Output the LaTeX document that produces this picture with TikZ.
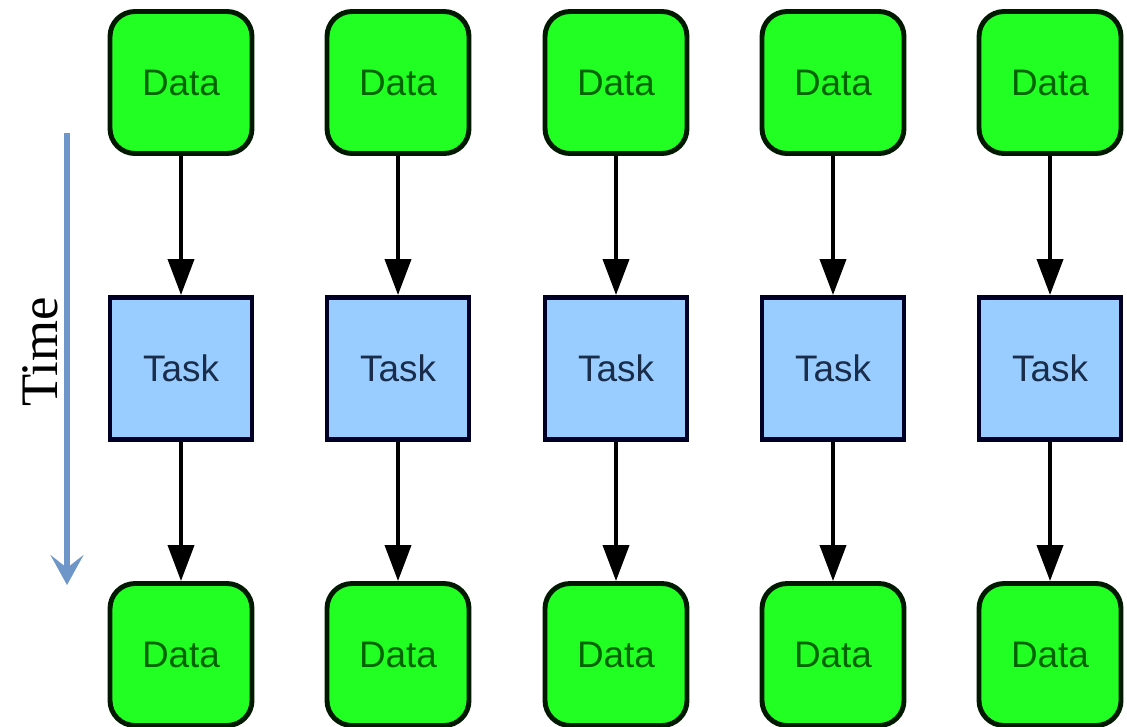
\documentclass[tikz,border=0pt]{standalone}
\usepackage{fontspec}
\setmainfont{Liberation Serif}
\setsansfont{Liberation Sans}
\definecolor{datagreen}{RGB}{34, 255, 34}
\definecolor{datatext}{RGB}{0, 100, 0}
\definecolor{taskblue}{RGB}{153, 204, 255}
\definecolor{tasktext}{RGB}{25, 45, 75}
\definecolor{timeblue}{RGB}{110, 150, 200}
\usetikzlibrary{arrows.meta, positioning}
\tikzset{
  databox/.style={draw=black!90!green, fill=datagreen, line width=1.4pt, rounded corners=2.5mm, minimum width=1.42cm, minimum height=1.42cm, font=\sffamily\fontsize{10.5}{12}\selectfont, text=datatext},
  taskbox/.style={draw=black!85!blue, fill=taskblue, line width=1.4pt, minimum width=1.42cm, minimum height=1.42cm, font=\sffamily\fontsize{10.5}{12}\selectfont, text=tasktext},
  flow/.style={-{Triangle[width=2.6mm, length=3.6mm]}, line width=1.1pt, black}
}
\begin{document}
\begin{tikzpicture}
  \useasboundingbox (0, 0) rectangle (11.27, 7.26);

  % Input data (top row)
  \node[databox] (in1) at (1.81, 6.435) {Data};
  \node[databox] (in2) at (3.98, 6.435) {Data};
  \node[databox] (in3) at (6.16, 6.435) {Data};
  \node[databox] (in4) at (8.33, 6.435) {Data};
  \node[databox] (in5) at (10.50, 6.435) {Data};

  % Tasks (middle row)
  \node[taskbox] (task1) at (1.81, 3.575) {Task};
  \node[taskbox] (task2) at (3.98, 3.575) {Task};
  \node[taskbox] (task3) at (6.16, 3.575) {Task};
  \node[taskbox] (task4) at (8.33, 3.575) {Task};
  \node[taskbox] (task5) at (10.50, 3.575) {Task};

  % Output data (bottom row)
  \node[databox] (out1) at (1.81, 0.715) {Data};
  \node[databox] (out2) at (3.98, 0.715) {Data};
  \node[databox] (out3) at (6.16, 0.715) {Data};
  \node[databox] (out4) at (8.33, 0.715) {Data};
  \node[databox] (out5) at (10.50, 0.715) {Data};

  % Data into tasks
  \draw[flow] (in1.south) -- (task1.north);
  \draw[flow] (in2.south) -- (task2.north);
  \draw[flow] (in3.south) -- (task3.north);
  \draw[flow] (in4.south) -- (task4.north);
  \draw[flow] (in5.south) -- (task5.north);

  % Tasks into data
  \draw[flow] (task1.south) -- (out1.north);
  \draw[flow] (task2.south) -- (out2.north);
  \draw[flow] (task3.south) -- (out3.north);
  \draw[flow] (task4.south) -- (out4.north);
  \draw[flow] (task5.south) -- (out5.north);

  % Time axis
  \coordinate (tstart) at (0.67, 5.93);
  \coordinate (tend) at (0.67, 1.41);
  \draw[timeblue, line width=1.6pt, -{Stealth[width=3.3mm, length=3mm, inset=1.3mm]}] (tstart) -- (tend);
  \node[rotate=90, font=\fontsize{15}{18}\selectfont] (timelabel) at (0.40, 3.74) {Time};
\end{tikzpicture}
\end{document}
